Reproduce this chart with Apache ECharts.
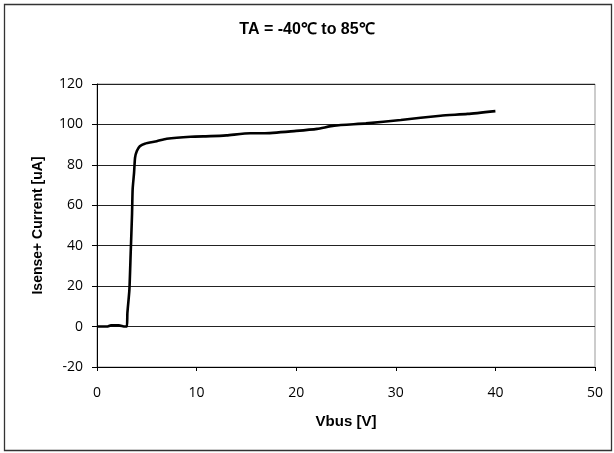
<!DOCTYPE html>
<html>
<head>
<meta charset="utf-8">
<script src="https://cdn.jsdelivr.net/npm/echarts@6/dist/echarts.min.js"></script>
<style>
html,body{margin:0;padding:0;background:#fff;}
#c{width:614px;height:453px;}
</style>
</head>
<body>
<div id="c"></div>
<script>
var titleText = 'TA = -40\u2103 to 85\u2103';
var xName = 'Vbus [V]';
var yName = 'Isense+ Current [uA]';
var vbus = [0, 1, 1.4, 2.2, 2.8, 3.0, 3.05, 3.25, 3.38, 3.52, 3.58, 3.72, 3.82, 4.0, 4.3, 4.8, 6, 7, 9.4, 11.4, 13, 15.4, 16.7, 20, 22.1, 23.8, 27, 30.5, 34.5, 37.2, 40];
var current = [0, 0, 0.6, 0.6, 0, 0, 6.6, 18, 36, 56, 68, 76, 83.5, 86.8, 89.2, 90.5, 91.7, 92.9, 93.9, 94.2, 94.6, 95.6, 95.6, 96.8, 97.8, 99.4, 100.5, 102.2, 104.3, 105.2, 106.6];
var xTicks = [0, 10, 20, 30, 40, 50];
var yTicks = [-20, 0, 20, 40, 60, 80, 100, 120];

var pts = vbus.map(function (v, i) { return [v, current[i]]; });
var chart = echarts.init(document.getElementById('c'), null, {renderer: 'canvas'});
var font = 'Liberation Sans';
var tickFont = 'Open Sans';
chart.setOption({
  animation: false,
  backgroundColor: '#fff',
  title: {
    text: titleText,
    left: 'center',
    top: 17,
    textStyle: {fontFamily: font, fontSize: 16, fontWeight: 'bold', color: '#000'}
  },
  graphic: [{
    type: 'rect',
    shape: {x: 4.5, y: 4.5, width: 607, height: 446},
    style: {fill: 'none', stroke: '#333', lineWidth: 1.3},
    silent: true
  }],
  grid: {left: 97, right: 19, top: 84, bottom: 86, show: true, borderColor: '#999', borderWidth: 1},
  xAxis: {
    type: 'value',
    min: xTicks[0], max: xTicks[xTicks.length - 1], interval: 10,
    name: xName, nameLocation: 'middle', nameGap: 47,
    nameTextStyle: {fontFamily: font, fontSize: 15, fontWeight: 'bold', color: '#000'},
    axisLine: {onZero: false, lineStyle: {color: '#000', width: 1}},
    axisTick: {show: true, length: 4, lineStyle: {color: '#000'}},
    axisLabel: {margin: 19, fontFamily: tickFont, fontSize: 14, color: '#000'},
    splitLine: {show: false}
  },
  yAxis: {
    type: 'value',
    min: yTicks[0], max: yTicks[yTicks.length - 1], interval: 20,
    name: yName, nameLocation: 'middle', nameGap: 52, nameRotate: 90,
    nameTextStyle: {fontFamily: font, fontSize: 14, fontWeight: 'bold', color: '#000'},
    axisLine: {show: true, lineStyle: {color: '#000', width: 1}},
    axisTick: {show: true, length: 5, lineStyle: {color: '#000'}},
    axisLabel: {margin: 14, fontFamily: tickFont, fontSize: 14, color: '#000'},
    splitLine: {show: true, lineStyle: {color: '#222', width: 1}}
  },
  series: [{
    type: 'line',
    data: pts,
    showSymbol: false,
    smooth: 0.2,
    lineStyle: {color: '#000', width: 2.6},
    clip: true
  }]
});
</script>
</body>
</html>
